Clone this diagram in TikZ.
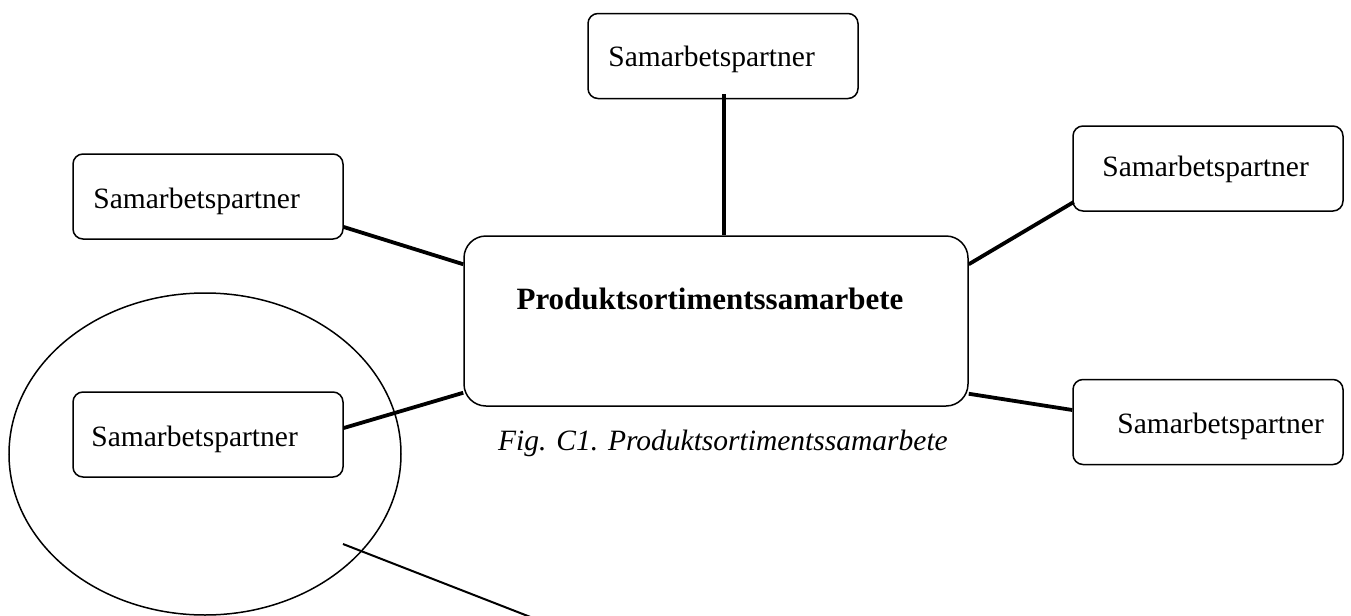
\documentclass[tikz,border=0pt]{standalone}
\usepackage{fontspec}
\setmainfont{Liberation Serif}
\usetikzlibrary{calc}
\begin{document}
\begin{tikzpicture}[x=0.5pt,y=-0.5pt,
  partner/.style={draw,line width=0.75pt,rounded corners=5pt,minimum width=135pt,minimum height=42.5pt,inner sep=0pt},
  hub/.style={draw,line width=0.75pt,rounded corners=11pt,minimum width=252pt,minimum height=85pt,inner sep=0pt},
  label/.style={inner sep=0pt,font=\fontsize{14.75}{18}\selectfont},
  link/.style={line width=1.9pt},
  thinlink/.style={line width=1pt}]
\useasboundingbox (0,0) rectangle (1351,616);

% central box and its title
\node[hub] (main) at (716,321) {};
\node[label,anchor=base,font=\fontsize{15.5}{18}\selectfont\bfseries] (maintext) at (710,309) {Produktsortimentssamarbete};
\node[label,anchor=base,font=\fontsize{14.75}{18}\selectfont\itshape] (caption) at (723,450) {Fig. C1. Produktsortimentssamarbete};

% partner boxes
\node[partner] (top)  at (723,56)    {};
\node[partner] (ltop) at (208,196.5) {};
\node[partner] (rtop) at (1208,168.5){};
\node[partner] (rbot) at (1208,422)  {};
\node[partner] (lbot) at (208,434.5) {};

\node[label,anchor=base west] (toptext)  at (608,66)   {Samarbetspartner};
\node[label,anchor=base west] (ltoptext) at (93,208)   {Samarbetspartner};
\node[label,anchor=base west] (rtoptext) at (1102,176) {Samarbetspartner};
\node[label,anchor=base west] (rbottext) at (1117,433) {Samarbetspartner};
\node[label,anchor=base west] (lbottext) at (91,446)   {Samarbetspartner};

% connectors
\draw[link] ($(top.south)+(1,-5)$) -- ($(top.south |- main.north)+(1,0)$);
\draw[link] ($(ltop.east)+(0,30.5)$) -- ($(main.north west)+(0,29)$);
\draw[link] ($(lbot.east)+(0,-6.5)$) -- ($(main.south west)+(0,-14)$);
\draw[link] ($(main.north east)+(0,29)$) -- ($(rtop.east)+(-270,33.5)$);
\draw[link] ($(main.south east)+(0,-13)$) -- ($(rbot.west)+(0,-12)$);

% grouping ellipse with its pointer line
\draw[line width=0.75pt] (205,454) ellipse [x radius=196, y radius=161];
\coordinate (pointerstart) at (343,544);
\coordinate (pointerend) at (533,618);
\draw[thinlink] (pointerstart) -- (pointerend);
\end{tikzpicture}
\end{document}
